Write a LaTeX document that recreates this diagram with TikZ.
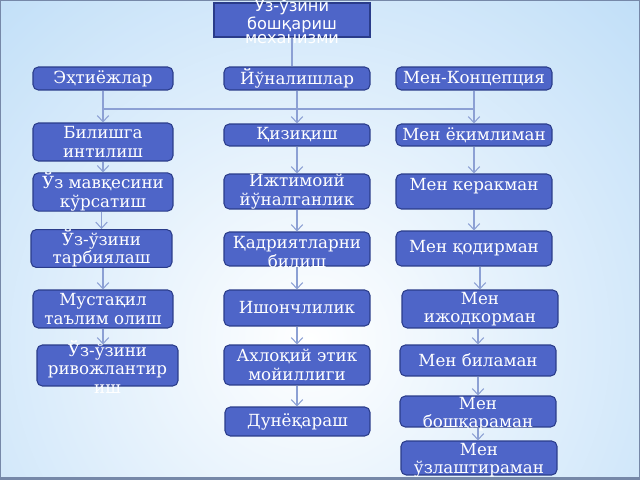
\documentclass[tikz,border=0pt]{standalone}
\usepackage{fontspec}
\setmainfont{DejaVu Serif}
\newfontfamily\headfont{DejaVu Sans}
\usetikzlibrary{arrows.meta}
\definecolor{boxfill}{RGB}{78,101,200}
\definecolor{boxline}{RGB}{42,60,138}
\definecolor{linkblue}{RGB}{140,160,212}
\definecolor{bgblue}{RGB}{176,214,246}
\definecolor{framegrey}{RGB}{118,136,168}

\begin{document}
\begin{tikzpicture}
		[x=0.02cm,y=-0.02cm,
		>={Straight Barb[length=3.5pt,width=6.5pt]},
		box/.style={draw=boxline,fill=boxfill,rounded corners=3pt,line width=0.6pt,inner sep=0pt},
		txt/.style={text=white,align=center,font=\fontsize{9.5}{10.5}\selectfont},
		link/.style={draw=linkblue,line width=0.6pt}
		]
		
		% background
		\useasboundingbox (0,0) rectangle (640,480);
		\begin{scope}
			\clip (0,0) rectangle (640,480);
			\shade[inner color=white,outer color=bgblue] (310,340) circle (600);
		\end{scope}
		\draw[framegrey,line width=0.6pt] (0.5,0.5) rectangle (639.5,479.5);
		\fill[framegrey] (0,477) rectangle (640,480);
		
		% top
		\node[box,rounded corners=0pt,minimum width=3.12cm,minimum height=0.68cm] (head) at (292,20) {};
		\node[txt,font=\headfont\fontsize{9.2}{8}\selectfont] (headt) at (head) {Ўз-ўзини\\бошқариш\\механизми};
		
		% row 1
		\node[box,txt,minimum width=2.8cm,minimum height=0.46cm] (ext) at (103,78.5) {Эҳтиёжлар};
		\node[box,txt,minimum width=2.92cm,minimum height=0.46cm] (yun) at (297,78.5) {Йўналишлар};
		\node[box,txt,minimum width=3.12cm,minimum height=0.46cm] (mk) at (474,78.5) {Мен-Концепция};
		
		% left column
		\node[box,txt,minimum width=2.8cm,minimum height=0.76cm] (bil) at (103,142) {Билишга\\интилиш};
		\node[box,txt,minimum width=2.8cm,minimum height=0.68cm] (mav) at (103,192) {Ўз мавқесини\\кўрсатиш};
		\node[box,txt,minimum width=2.82cm,minimum height=0.7cm] (tar) at (101.5,248.5) {Ўз-ўзини\\тарбиялаш};
		\node[box,txt,minimum width=2.8cm,minimum height=0.76cm] (mus) at (103,309) {Мустақил\\таълим олиш};
		\node[box,minimum width=2.82cm,minimum height=0.82cm] (riv) at (107.5,365.5) {};
		\node[txt] (rivt) at (107.5,367) {Ўз-ўзини\\ривожлантир\\иш};
		
		% middle column
		\node[box,txt,minimum width=2.92cm,minimum height=0.44cm] (qiz) at (297,135) {Қизиқиш};
		\node[box,txt,minimum width=2.92cm,minimum height=0.7cm] (ijt) at (297,191.5) {Ижтимоий\\йўналганлик};
		\node[box,minimum width=2.92cm,minimum height=0.68cm] (qad) at (297,249) {};
		\node[txt] (qadt) at (297,252) {Қадриятларни\\билиш};
		\node[box,txt,minimum width=2.92cm,minimum height=0.72cm] (ish) at (297,308) {Ишончлилик};
		\node[box,txt,minimum width=2.92cm,minimum height=0.8cm] (axl) at (297,365) {Ахлоқий этик\\мойиллиги};
		\node[box,txt,minimum width=2.9cm,minimum height=0.58cm] (dun) at (297.5,421.5) {Дунёқараш};
		
		% right column
		\node[box,txt,minimum width=3.12cm,minimum height=0.44cm] (yoq) at (474,135) {Мен ёқимлиман};
		\node[box,txt,minimum width=3.12cm,minimum height=0.7cm,text depth=0.28cm] (ker) at (474,191.5) {Мен керакман};
		\node[box,txt,minimum width=3.12cm,minimum height=0.7cm] (qod) at (474,248.5) {Мен қодирман};
		\node[box,txt,minimum width=3.12cm,minimum height=0.76cm] (ijo) at (480,309) {Мен\\ижодкорман};
		\node[box,txt,minimum width=3.12cm,minimum height=0.62cm] (bl) at (478,360.5) {Мен биламан};
		\node[box,minimum width=3.12cm,minimum height=0.62cm] (bos) at (478,411.5) {};
		\node[txt] (bost) at (478,414) {Мен\\бошқараман};
		\node[box,minimum width=3.12cm,minimum height=0.68cm] (uzl) at (479,458) {};
		\node[txt] (uzlt) at (479,460) {Мен\\ўзлаштираман};
		
		% connectors
		\coordinate (bar) at (0,109);
		\draw[link] (head.south) -- (head.south |- yun.north);
		\draw[link] (ext.south |- bar) -- (mk.south |- bar);
		\draw[link,->] (ext.south) -- (ext.south |- bil.north);
		\draw[link,->] (yun.south) -- (yun.south |- qiz.north);
		\draw[link,->] (mk.south) -- (mk.south |- yoq.north);
		
		\draw[link,->] (bil.south) -- (bil.south |- mav.north);
		\draw[link,->] (tar.north |- mav.south) -- (tar.north);
		\draw[link,->] (mus.north |- tar.south) -- (mus.north);
		\draw[link,->] (mus.south) -- (mus.south |- riv.north);
		
		\draw[link,->] (qiz.south) -- (qiz.south |- ijt.north);
		\draw[link,->] (ijt.south) -- (ijt.south |- qad.north);
		\draw[link,->] (qad.south) -- (qad.south |- ish.north);
		\draw[link,->] (ish.south) -- (ish.south |- axl.north);
		\draw[link,->] (axl.south) -- (axl.south |- dun.north);
		
		\draw[link,->] (yoq.south) -- (yoq.south |- ker.north);
		\draw[link,->] (ker.south) -- (ker.south |- qod.north);
		\draw[link,->] (ijo.north |- qod.south) -- (ijo.north);
		\draw[link,->] (bl.north |- ijo.south) -- (bl.north);
		\draw[link,->] (bl.south) -- (bl.south |- bos.north);
		\draw[link,->] (bos.south) -- (bos.south |- uzl.north);
	\end{tikzpicture}
\end{document}
